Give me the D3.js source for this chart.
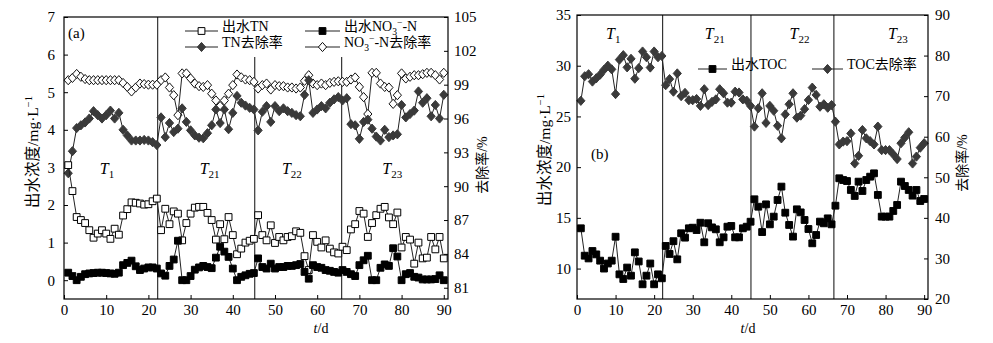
<!DOCTYPE html>
<html><head><meta charset="utf-8">
<script src="https://cdn.jsdelivr.net/npm/d3@7"></script>
<style>
body{margin:0;background:#fff;}
svg{display:block;}
svg text{font-family:"Liberation Serif","Noto Sans CJK SC",serif !important;fill:#000;}
</style></head><body>
<svg id="chart" width="993" height="343" font-family="Liberation Serif, Noto Sans CJK SC, serif"></svg>
<script>
// ---------------- DATA ----------------
const days = d3.range(1, 91);
const xTicks = [0, 10, 20, 30, 40, 50, 60, 70, 80, 90];

// Panel (a): effluent (mg/L, left axis) and removal rate (%, right axis)
const tnEffluent = [3.06,2.37,1.68,1.6,1.52,1.33,1.13,1.24,1.33,1.24, 1.1,1.37,1.21,1.72,1.89,2.07,2.06,2.04,2.01,2.02,
  2.1,2.17,1.33,1.9,1.49,1.83,1.77,1.06,1.52,1.77, 1.93,1.95,1.95,1.79,1.6,1.08,1.49,1.09,1.68,1.2,
  0.69,0.84,1.0,1.05,1.1,1.73,1.2,1.06,1.46,0.99, 1.15,1.06,1.15,1.17,1.3,1.26,0.64,0.27,1.2,1.02,
  0.87,1.06,0.84,0.74,0.71,0.89,0.8,1.35,1.49,1.84, 1.77,1.15,1.52,1.73,1.9,1.95,1.67,1.49,1.8,0.87,
  1.15,1.08,0.44,1.0,0.58,0.6,1.15,0.82,1.15,0.58];
const no3Effluent = [0.2,0.11,0.0,0.09,0.16,0.18,0.19,0.2,0.2,0.19, 0.18,0.17,0.2,0.4,0.46,0.52,0.37,0.27,0.31,0.34,
  0.34,0.31,0.18,0.12,0.38,0.55,1.05,0.0,0.0,0.11, 0.28,0.34,0.38,0.35,0.32,0.6,0.89,0.76,0.62,0.31,
  0.0,0.09,0.13,0.17,0.19,0.58,0.35,0.31,0.44,0.31, 0.35,0.35,0.38,0.38,0.4,0.43,0.22,0.04,0.4,0.35,
  0.33,0.27,0.25,0.22,0.2,0.27,0.22,0.16,0.11,0.4, 0.53,0.65,0.0,0.0,0.33,0.42,0.38,0.85,0.63,0.0,
  0.16,0.19,0.09,0.07,0.02,0.02,0.02,0.03,0.13,0.0];
const tnRemoval = [91.15,93.1,95.15,95.4,95.65,96.0,96.65,96.3,96.0,96.3, 96.7,96.0,96.5,95.0,94.5,94.05,94.05,94.05,94.1,94.05,
  93.9,93.65,96.1,94.35,95.6,94.8,95.1,96.9,95.7,94.95, 94.5,94.3,94.25,94.7,95.4,96.8,95.6,96.8,95.05,96.5,
  98.0,97.4,97.15,96.95,96.8,94.95,96.6,97.1,95.7,97.1, 96.65,96.9,96.65,96.5,96.3,96.2,98.1,99.4,96.5,96.8,
  97.1,96.9,97.4,97.7,97.9,97.6,97.8,95.5,95.4,94.2, 95.7,95.9,95.1,94.4,94.05,95.0,94.35,94.5,94.6,97.2,
  96.1,96.4,96.7,98.4,97.4,97.8,96.2,97.2,96.0,98.1];
const no3Removal = [99.4,99.6,99.95,99.7,99.5,99.4,99.4,99.4,99.4,99.4, 99.4,99.4,99.4,99.15,98.8,98.4,98.75,99.1,99.05,99.0,
  99.0,99.0,99.4,99.64,98.75,98.07,96.3,100.0,100.0,99.55, 99.1,98.87,98.8,98.96,98.2,97.6,97.1,97.6,98.2,98.96,
  99.9,99.65,99.46,99.4,99.25,98.66,98.96,99.1,98.57,98.96, 98.87,98.87,98.75,98.75,98.66,98.75,99.34,99.84,99.1,98.96,
  99.1,98.96,99.16,99.25,99.3,99.25,99.25,99.46,99.64,98.8, 97.9,96.4,100.05,100.05,99.1,98.8,98.75,97.3,98.07,100.0,
  99.55,99.7,99.84,99.84,99.93,100.05,100.05,99.84,99.46,100.05];

// Panel (b): TOC
const tocEffluent = [13.97,11.27,11.0,11.73,11.4,10.78,10.0,10.5,10.78,13.14, 9.43,8.97,10.1,9.3,11.6,10.7,8.45,9.3,10.5,8.45,
  9.43,9.04,12.23,11.44,12.7,10.91,13.48,13.05,13.97,14.03, 13.8,14.52,12.59,14.47,14.06,13.87,12.59,13.08,14.13,14.2,
  13.08,13.08,13.97,14.13,14.62,16.83,16.1,13.6,16.33,14.36, 15.12,16.76,18.08,15.51,14.3,13.15,15.84,15.54,14.79,13.9,
  12.49,13.31,14.63,14.46,14.95,14.36,16.2,18.9,18.73,18.63, 17.75,17.16,18.57,17.65,18.73,19.06,19.39,17.26,15.12,15.12,
  15.12,15.68,16.27,18.57,18.14,17.75,17.19,17.75,16.66,16.86];
const tocRemoval = [68.85,74.9,75.4,73.6,74.4,75.3,76.5,77.5,76.6,70.5, 79.0,80.1,77.1,79.2,74.3,76.9,81.0,79.6,77.05,81.0,
  79.6,79.9,72.7,74.2,71.1,75.6,70.0,70.8,69.0,69.0, 69.3,67.6,71.7,67.8,68.6,69.2,71.7,70.7,68.4,68.4,
  71.1,70.9,69.2,68.9,67.6,62.5,67.0,70.7,63.4,67.6, 66.4,62.7,59.6,65.5,68.0,70.7,64.7,65.2,66.8,69.05,
  72.1,70.3,67.4,68.0,67.15,67.8,63.7,58.1,58.8,58.9, 60.8,53.4,55.3,61.65,59.6,58.9,58.1,62.5,56.7,56.7,
  56.7,55.65,54.5,58.4,59.8,61.1,53.4,55.1,57.3,58.4];

// Axis ticks
const leftTicksA = [0, 1, 2, 3, 4, 5, 6, 7];
const rightTicksA = [81, 84, 87, 90, 93, 96, 99, 102, 105];
const leftTicksB = [10, 15, 20, 25, 30, 35];
const rightTicksB = [20, 30, 40, 50, 60, 70, 80, 90];

// Phase boundaries (days) and phase labels
const phaseBoundsA = [22.2, 45.2, 65.8];
const phaseBoundsB = [22.2, 45.1, 66.6];
const phaseNames = [["T","1"], ["T","21"], ["T","22"], ["T","23"]];
const phaseLabelDaysA = [10.2, 34.5, 54.0, 77.8];
const phaseLabelDaysB = [9.4, 35.7, 57.7, 83.2];

// Titles / legend labels
const yTitleLeft = ["出水浓度/mg·L", "−1"];
const yTitleRight = "去除率/%";
const legendA = [
  {parts:[{t:"出水TN"}], marker:"openSquare"},
  {parts:[{t:"出水NO"},{t:"3",sub:true},{t:"−",sup:true},{t:"-N"}], marker:"filledSquare"},
  {parts:[{t:"TN去除率"}], marker:"filledDiamond"},
  {parts:[{t:"NO"},{t:"3",sub:true},{t:"−",sup:true},{t:"-N去除率"}], marker:"openDiamond"}
];
const legendB = [
  {parts:[{t:"出水TOC"}], marker:"filledSquare"},
  {parts:[{t:"TOC去除率"}], marker:"filledDiamond"}
];

// ---------------- DRAWING ----------------
const FONT = "Liberation Serif, Noto Sans CJK SC, serif";
const svg = d3.select("#chart");
const diamondPath = "M0,-4.6L4.1,0L0,4.6L-4.1,0Z";
const squarePath = "M-3.4,-3.4H3.4V3.4H-3.4Z";
const markerStyles = {
  openSquare: {path: squarePath, fill: "#fff", stroke: "#000"},
  filledSquare: {path: squarePath, fill: "#000", stroke: "#000"},
  filledDiamond: {path: diamondPath, fill: "#3a3a3a", stroke: "#3a3a3a"},
  openDiamond: {path: diamondPath, fill: "#fff", stroke: "#111"}
};

function richText(sel, parts, fs) {
  let off = 0;
  parts.forEach(p => {
    const ts = sel.append("tspan").text(p.t);
    let target = 0, size = fs;
    if (p.sub) { target = fs * 0.28; size = fs * 0.68; }
    if (p.sup) { target = -fs * 0.38; size = fs * 0.68; }
    ts.attr("dy", target - off).attr("font-size", size);
    off = target;
  });
}

function drawSeries(g, x, y, values, marker) {
  const data = days.map((d, i) => ({d, v: values[i]}));
  g.append("path").datum(data)
    .attr("d", d3.line().x(p => x(p.d)).y(p => y(p.v)))
    .attr("fill", "none").attr("stroke", "#222").attr("stroke-width", 1);
  const st = markerStyles[marker];
  g.append("g").selectAll("path").data(data).join("path")
    .attr("d", st.path)
    .attr("transform", p => `translate(${x(p.d)},${y(p.v)})`)
    .attr("fill", st.fill).attr("stroke", st.stroke).attr("stroke-width", 1);
}

function drawPanel(p) {
  const g = svg.append("g");
  const x = d3.scaleLinear().domain([0, 91]).range([p.left, p.right]);
  const yL = d3.scaleLinear().domain(p.yLeftDomain).range([p.bottom, p.top]);
  const yR = d3.scaleLinear().domain(p.yRightDomain).range([p.bottom, p.top]);

  const fs = 15;
  const axB = g.append("g").attr("transform", `translate(0,${p.bottom})`)
    .call(d3.axisBottom(x).tickValues(xTicks).tickSize(-4).tickPadding(5).tickFormat(d3.format("d")));
  const axL = g.append("g").attr("transform", `translate(${p.left},0)`)
    .call(d3.axisLeft(yL).tickValues(p.leftTicks).tickSize(-4).tickPadding(p.padL).tickFormat(d3.format("d")));
  const axR = g.append("g").attr("transform", `translate(${p.right},0)`)
    .call(d3.axisRight(yR).tickValues(p.rightTicks).tickSize(-4).tickPadding(p.padR).tickFormat(d3.format("d")));
  [axB, axL, axR].forEach(a => {
    a.attr("font-family", FONT).attr("font-size", fs);
    a.select(".domain").remove();
    a.selectAll("line").attr("stroke", "#000");
    a.selectAll("text").attr("font-size", fs).attr("font-family", FONT).attr("fill", "#000");
  });

  p.bounds.forEach((b, i) => {
    g.append("line").attr("x1", x(b)).attr("x2", x(b))
      .attr("y1", (i > 0 && p.lineTopAfterFirst) ? p.lineTopAfterFirst : p.top)
      .attr("y2", p.bottom).attr("stroke", "#222").attr("stroke-width", 1.1);
  });

  p.series.forEach(s => drawSeries(g, x, s.axis === "L" ? yL : yR, s.values, s.marker));

  g.append("rect").attr("x", p.left).attr("y", p.top)
    .attr("width", p.right - p.left).attr("height", p.bottom - p.top)
    .attr("fill", "none").attr("stroke", "#000").attr("stroke-width", 1.2);

  phaseNames.forEach((n, i) => {
    const t = g.append("text").attr("x", x(p.labelDays[i])).attr("y", yL(p.labelLevel))
      .attr("text-anchor", "middle").attr("dy", "0.35em").attr("font-size", 16);
    t.append("tspan").text(n[0]).attr("font-style", "italic");
    t.append("tspan").text(n[1]).attr("font-size", 11).attr("dy", 4);
  });

  g.append("text").attr("x", p.tag.x).attr("y", p.tag.y).attr("font-size", 15).text(p.tag.t);

  const tl = g.append("text")
    .attr("transform", `translate(${p.titleL.x},${p.titleL.y}) rotate(-90)`)
    .attr("text-anchor", "middle").attr("font-size", 15.5);
  richText(tl, [{t: yTitleLeft[0]}, {t: yTitleLeft[1], sup: true}], 15.5);
  g.append("text")
    .attr("transform", `translate(${p.titleR.x},${p.titleR.y}) rotate(-90)`)
    .attr("text-anchor", "middle").attr("font-size", 14).text(yTitleRight);

  const xt = g.append("text").attr("x", p.xTitle.x).attr("y", p.xTitle.y)
    .attr("text-anchor", "middle").attr("font-size", 14);
  xt.append("tspan").text("t").attr("font-style", "italic");
  xt.append("tspan").text("/d");

  p.legend.forEach((e, i) => {
    const pos = p.legendPos[i];
    const st = markerStyles[e.marker];
    g.append("line").attr("x1", pos.x).attr("x2", pos.x + pos.w).attr("y1", pos.y).attr("y2", pos.y)
      .attr("stroke", "#222").attr("stroke-width", 1);
    g.append("path").attr("d", st.path).attr("transform", `translate(${pos.x + pos.w / 2},${pos.y})`)
      .attr("fill", st.fill).attr("stroke", st.stroke);
    const t = g.append("text").attr("x", pos.x + pos.w + 4).attr("y", pos.y).attr("dy", "0.36em")
      .attr("font-size", 14);
    richText(t, e.parts, 14);
  });
}

drawPanel({
  left: 64, right: 448, top: 17, bottom: 299,
  yLeftDomain: [-0.5, 7], yRightDomain: [80, 105],
  leftTicks: leftTicksA, rightTicks: rightTicksA, padL: 9, padR: 6,
  bounds: phaseBoundsA, lineTopAfterFirst: 57,
  labelDays: phaseLabelDaysA, labelLevel: 2.98,
  series: [
    {values: no3Removal, axis: "R", marker: "openDiamond"},
    {values: tnRemoval, axis: "R", marker: "filledDiamond"},
    {values: tnEffluent, axis: "L", marker: "openSquare"},
    {values: no3Effluent, axis: "L", marker: "filledSquare"}
  ],
  tag: {x: 68, y: 38, t: "(a)"},
  titleL: {x: 38, y: 152}, titleR: {x: 487, y: 165},
  xTitle: {x: 321, y: 333},
  legend: legendA,
  legendPos: [{x: 185, y: 31, w: 33}, {x: 305, y: 31, w: 35}, {x: 185, y: 47, w: 33}, {x: 305, y: 47, w: 35}]
});

drawPanel({
  left: 577, right: 928, top: 15, bottom: 299,
  yLeftDomain: [7, 35], yRightDomain: [20, 90],
  leftTicks: leftTicksB, rightTicks: rightTicksB, padL: 6, padR: 7,
  bounds: phaseBoundsB, lineTopAfterFirst: null,
  labelDays: phaseLabelDaysB, labelLevel: 33.2,
  series: [
    {values: tocRemoval, axis: "R", marker: "filledDiamond"},
    {values: tocEffluent, axis: "L", marker: "filledSquare"}
  ],
  tag: {x: 591, y: 159, t: "(b)"},
  titleL: {x: 550, y: 150}, titleR: {x: 967, y: 163},
  xTitle: {x: 748, y: 333},
  legend: legendB,
  legendPos: [{x: 698, y: 69, w: 29}, {x: 812, y: 69, w: 31}]
});
</script>
</body></html>
